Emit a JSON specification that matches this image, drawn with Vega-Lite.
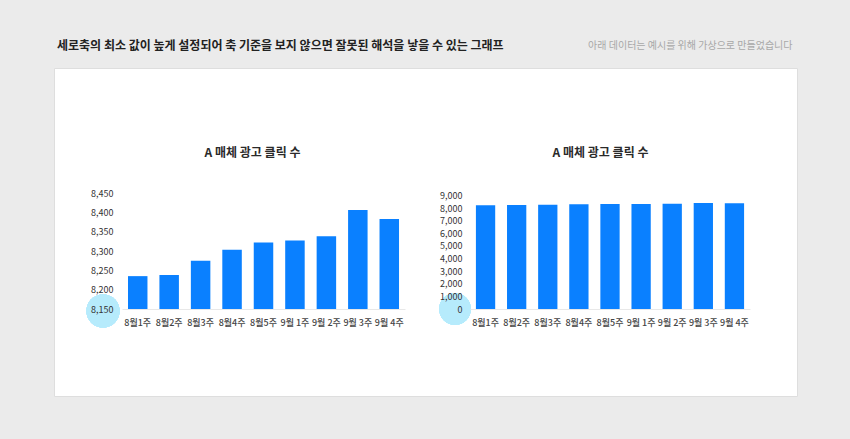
{
  "$schema": "https://vega.github.io/schema/vega-lite/v6.json",
  "width": 743,
  "height": 328,
  "autosize": "none",
  "padding": {"left": 54, "top": 68, "right": 53, "bottom": 43},
  "background": "#ebebeb",
  "title": {
    "text": "세로축의 최소 값이 높게 설정되어 축 기준을 보지 않으면 잘못된 해석을 낳을 수 있는 그래프",
    "frame": "group",
    "anchor": "start",
    "dx": 3,
    "offset": -13,
    "fontSize": 12,
    "fontWeight": "bold",
    "color": "#222222"
  },
  "data": {
    "values": [
      {"week": "8월1주", "clicks": 8235},
      {"week": "8월2주", "clicks": 8238},
      {"week": "8월3주", "clicks": 8275},
      {"week": "8월4주", "clicks": 8303},
      {"week": "8월5주", "clicks": 8322},
      {"week": "9월 1주", "clicks": 8327},
      {"week": "9월 2주", "clicks": 8338},
      {"week": "9월 3주", "clicks": 8406},
      {"week": "9월 4주", "clicks": 8383}
    ]
  },
  "layer": [
    {
      "layer": [
        {
          "mark": {"type": "point", "filled": true, "size": 1100, "color": "#b6ebfc", "opacity": 1, "yOffset": 2},
          "encoding": {
            "x": {"value": 49},
            "y": {
              "datum": 8150,
              "type": "quantitative",
              "axis": {
                "orient": "left",
                "offset": -59,
                "labelPadding": 0,
                "zindex": 2,
                "values": [8150, 8200, 8250, 8300, 8350, 8400, 8450],
                "format": ",d",
                "title": "A 매체 광고 클릭 수",
                "titleX": 139,
                "titleY": 84
              }
            }
          }
        },
        {
          "mark": {"type": "bar", "color": "#0a80ff"},
          "encoding": {
            "x": {
              "field": "week",
              "type": "ordinal",
              "sort": null,
              "scale": {"range": [68, 351], "paddingInner": 0.38, "paddingOuter": 0.19},
              "axis": {
                "orient": "bottom",
                "offset": -87,
                "labelPadding": 9,
                "zindex": 2,
                "title": "아래 데이터는 예시를 위해 가상으로 만들었습니다",
                "titleX": 738,
                "titleY": -264,
                "titleAlign": "right",
                "titleBaseline": "middle",
                "titleFontSize": 10,
                "titleFontWeight": "normal",
                "titleColor": "#a8a8a8"
              }
            },
            "y": {
              "field": "clicks",
              "type": "quantitative",
              "scale": {"domain": [8150, 8450], "range": [241, 125], "zero": false, "nice": false},
              "axis": {
                "orient": "left",
                "offset": -59,
                "labelPadding": 0,
                "zindex": 2,
                "values": [8150, 8200, 8250, 8300, 8350, 8400, 8450],
                "format": ",d",
                "title": "A 매체 광고 클릭 수",
                "titleX": 139,
                "titleY": 84
              }
            },
            "y2": {"datum": 8150}
          }
        }
      ]
    },
    {
      "layer": [
        {
          "mark": {"type": "point", "filled": true, "size": 1000, "color": "#b6ebfc", "opacity": 1},
          "encoding": {
            "x": {"value": 401},
            "y": {
              "datum": 0,
              "type": "quantitative",
              "axis": {
                "orient": "left",
                "offset": -408,
                "labelPadding": 0,
                "zindex": 2,
                "values": [0, 1000, 2000, 3000, 4000, 5000, 6000, 7000, 8000, 9000],
                "format": ",d",
                "title": "A 매체 광고 클릭 수",
                "titleX": 138,
                "titleY": 84
              }
            }
          }
        },
        {
          "mark": {"type": "bar", "color": "#0a80ff"},
          "encoding": {
            "x": {
              "field": "week",
              "type": "ordinal",
              "sort": null,
              "scale": {"range": [416, 696], "paddingInner": 0.38, "paddingOuter": 0.19},
              "axis": {"orient": "bottom", "offset": -87, "labelPadding": 9, "zindex": 2, "title": null}
            },
            "y": {
              "field": "clicks",
              "type": "quantitative",
              "scale": {"domain": [0, 9000], "range": [241, 127.5], "nice": false},
              "axis": {
                "orient": "left",
                "offset": -408,
                "labelPadding": 0,
                "zindex": 2,
                "values": [0, 1000, 2000, 3000, 4000, 5000, 6000, 7000, 8000, 9000],
                "format": ",d",
                "title": "A 매체 광고 클릭 수",
                "titleX": 138,
                "titleY": 84
              }
            }
          }
        }
      ]
    }
  ],
  "resolve": {"scale": {"x": "independent", "y": "independent"}},
  "config": {
    "font": "Noto Sans CJK KR",
    "view": {"fill": "white", "stroke": "#dedede"},
    "axis": {
      "grid": false,
      "ticks": false,
      "labelFont": "Noto Sans CJK KR",
      "labelFontSize": 9,
      "labelColor": "#333333",
      "titleFont": "Noto Sans CJK KR",
      "titleAngle": 0,
      "titleAlign": "center",
      "titleBaseline": "middle",
      "titleFontSize": 12,
      "titleFontWeight": "bold",
      "titleColor": "#2a2a2a"
    },
    "axisX": {"domain": true, "domainColor": "#e8e8e8", "labelAngle": 0, "labelColor": "#444444", "labelFontWeight": 500},
    "axisY": {"domain": false}
  }
}
